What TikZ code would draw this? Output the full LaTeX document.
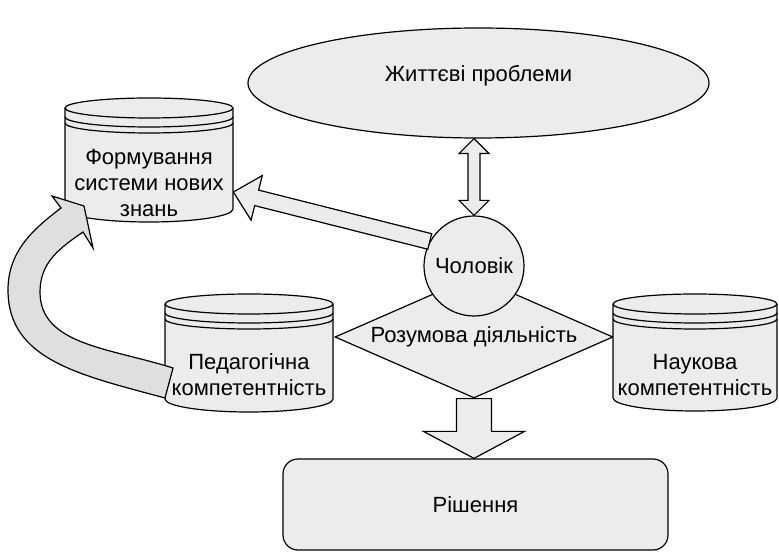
\documentclass[tikz,border=0pt]{standalone}
\usepackage{fontspec}
\setmainfont{Liberation Sans}
\usetikzlibrary{shapes.geometric,calc}

\tikzset{
    shape fill/.style={draw, fill=gray!15, line width=0.6bp},
    bend fill/.style={draw, fill=gray!25, line width=0.6bp},
    every node/.style={font=\fontsize{11bp}{13bp}\selectfont, inner sep=0pt, align=center},
}

\begin{document}
\begin{tikzpicture}[x=0.5bp, y=0.5bp]
    \def\storage#1#2#3#4{%
        \draw[shape fill] (#1,{-(#3+10)}) -- (#1,{-(#4-13)})
            arc[start angle=180, end angle=360, x radius={(#2-#1)/2}, y radius=13]
            -- (#2,{-(#3+10)})
            arc[start angle=0, end angle=180, x radius={(#2-#1)/2}, y radius=10] -- cycle;
        \foreach \d in {10,19,25}
            \draw[line width=0.6bp] (#1,{-(#3+\d)}) arc[start angle=180, end angle=360, x radius={(#2-#1)/2}, y radius=10];
    }

    \def\blockarrow#1#2#3#4#5{%
        \coordinate (ba) at ($(#2)!#5!(#1)$);
        \draw[shape fill] ($(#1)!#3!90:(#2)$) -- ($(ba)!#3!90:(#2)$) -- ($(ba)!#4!90:(#2)$) -- (#2)
            -- ($(ba)!#4!-90:(#2)$) -- ($(ba)!#3!-90:(#2)$) -- ($(#1)!#3!-90:(#2)$) -- cycle;
    }

    \def\dblarrow#1#2#3#4#5{%
        \coordinate (da) at ($(#1)!#5!(#2)$);
        \coordinate (db) at ($(#2)!#5!(#1)$);
        \draw[shape fill] (#1) -- ($(da)!#4!90:(#2)$) -- ($(da)!#3!90:(#2)$) -- ($(db)!#3!90:(#2)$)
            -- ($(db)!#4!90:(#2)$) -- (#2) -- ($(db)!#4!-90:(#2)$) -- ($(db)!#3!-90:(#2)$)
            -- ($(da)!#3!-90:(#2)$) -- ($(da)!#4!-90:(#2)$) -- cycle;
    }

    \useasboundingbox (0,0) rectangle (779,-558);

    % problems, thinking, man, decision
    \node[shape fill, ellipse, minimum width=230.5bp, minimum height=55bp, text height=6bp, text depth=7.4bp] (life) at (478.5,-83) {Життєві проблеми};
    \node[shape fill, diamond, aspect=2.28, minimum width=139bp, minimum height=61bp] (think) at (474,-337) {Розумова діяльність};
    \node[shape fill, circle, minimum size=50bp] (man) at (474,-266) {Чоловік};
    \node[shape fill, rounded corners=7.5bp, minimum width=192.5bp, minimum height=45.5bp] (result) at (475.5,-504.5) {Рішення};

    % stores
    \storage{65}{233}{98}{222}
    \storage{165}{333}{294}{412}
    \storage{613}{777}{294}{411}

    % bent arrow back to knowledge
    \draw[bend fill] (173,-368) .. controls (110,-348) and (40,-345) .. (40,-292)
        .. controls (40,-262) and (60,-248) .. (83,-232) -- (93,-248) -- (84,-206) -- (52,-196) -- (61,-208)
        .. controls (35,-228) and (8,-250) .. (8,-290)
        .. controls (8,-360) and (80,-375) .. (165,-398) -- cycle;

    \node[minimum width=84bp] (know) at (149,-183) {Формування\\системи нових\\знань};
    \node[minimum width=84bp] (pedag) at (249,-375) {Педагогічна\\компетентність};
    \node[minimum width=82bp] (sci) at (695,-375) {Наукова\\компетентність};

    \coordinate (life foot) at (man.north |- life.south);
    \coordinate (know tip) at ([yshift=-4.5bp]know.east);
    \coordinate (result top) at (think.south |- result.north);

    \dblarrow{life foot}{man.north}{3bp}{7.5bp}{7.5bp}
    \blockarrow{man.151}{know tip}{4bp}{11.5bp}{12bp}
    \blockarrow{think.south}{result top}{8.75bp}{25.25bp}{13.5bp}

\end{tikzpicture}
\end{document}
